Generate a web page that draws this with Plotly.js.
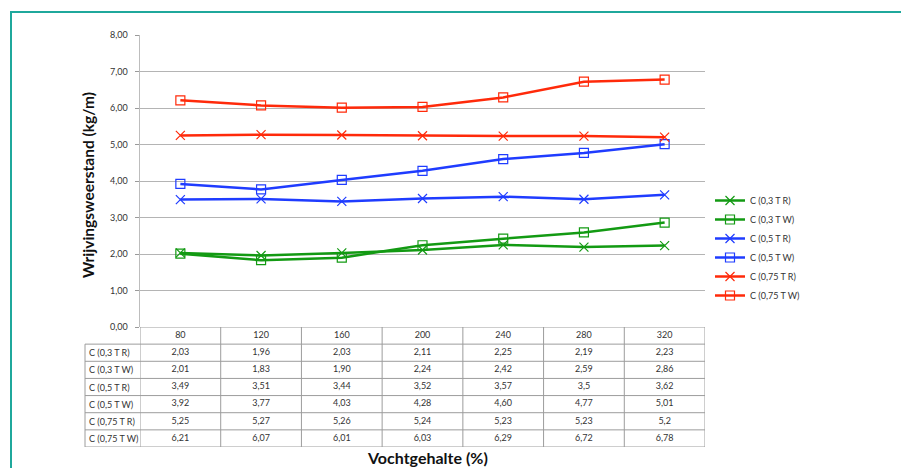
<!DOCTYPE html>
<html>
<head>
<meta charset="utf-8">
<script src="https://cdn.plot.ly/plotly-3.0.1.min.js"></script>
<style>
  html, body { margin: 0; padding: 0; background: #fff; }
  #wrap { position: relative; width: 901px; height: 468px; overflow: hidden; }
  #chart { width: 901px; height: 468px; }
  #frame { position: absolute; left: 10px; top: 11px; width: 1000px; height: 1000px;
           border-top: 2px solid #1fa89c; border-left: 2px solid #1fa89c; pointer-events: none; }
</style>
</head>
<body>
<div id="wrap"><div id="chart"></div><div id="frame"></div></div>
<script>
// Moisture content categories (%)
const moisture = ['80', '120', '160', '200', '240', '280', '320'];

// Series names
const seriesNames = ['C (0,3 T R)', 'C (0,3 T W)', 'C (0,5 T R)', 'C (0,5 T W)', 'C (0,75 T R)', 'C (0,75 T W)'];

// Friction resistance (kg/m), as written in the data table
const c03TR  = ['2,03', '1,96', '2,03', '2,11', '2,25', '2,19', '2,23'];
const c03TW  = ['2,01', '1,83', '1,90', '2,24', '2,42', '2,59', '2,86'];
const c05TR  = ['3,49', '3,51', '3,44', '3,52', '3,57', '3,5',  '3,62'];
const c05TW  = ['3,92', '3,77', '4,03', '4,28', '4,60', '4,77', '5,01'];
const c075TR = ['5,25', '5,27', '5,26', '5,24', '5,23', '5,23', '5,2'];
const c075TW = ['6,21', '6,07', '6,01', '6,03', '6,29', '6,72', '6,78'];

const seriesData = [c03TR, c03TW, c05TR, c05TW, c075TR, c075TW];
const toNum = s => parseFloat(s.replace(',', '.'));

const GREEN = '#139a13', BLUE = '#1f3cff', RED = '#ff2a0a';
const styles = [
  { color: GREEN, symbol: 'x-thin-open' },
  { color: GREEN, symbol: 'square-open' },
  { color: BLUE,  symbol: 'x-thin-open' },
  { color: BLUE,  symbol: 'square-open' },
  { color: RED,   symbol: 'x-thin-open' },
  { color: RED,   symbol: 'square-open' }
];

const FONT = 'Lato, "Open Sans", sans-serif';
const TXT = '#333333';

const traces = seriesData.map((vals, i) => ({
  type: 'scatter',
  mode: 'lines+markers',
  name: seriesNames[i],
  x: moisture,
  y: vals.map(toNum),
  line: { color: styles[i].color, width: 2.5 },
  marker: {
    symbol: styles[i].symbol,
    size: 9,
    color: styles[i].color,
    line: { color: styles[i].color, width: 1.2 }
  },
  hoverinfo: 'x+y+name',
  cliponaxis: false
}));

// Data table below the plot: header row (0) with categories, rows 1..6 with series values
const tabX = [], tabY = [], tabT = [];
moisture.forEach(m => { tabX.push(m); tabY.push(0); tabT.push(m); });
seriesData.forEach((vals, r) => {
  vals.forEach((v, c) => { tabX.push(moisture[c]); tabY.push(r + 1); tabT.push(v); });
});
traces.push({
  type: 'scatter',
  mode: 'text',
  x: tabX,
  y: tabY,
  text: tabT,
  textposition: 'middle center',
  textfont: { family: FONT, size: 9, color: TXT },
  xaxis: 'x',
  yaxis: 'y2',
  showlegend: false,
  hoverinfo: 'skip',
  cliponaxis: false
});

// Plot area geometry in pixels
const W = 901, H = 468, L = 140, R = 705, T = 35, B = 447, Y0 = 327;
const pw = R - L, ph = B - T;
const tableFrac = (B - Y0) / ph;
const labelColX = (85 - L) / pw;
const nCat = moisture.length, nRows = seriesNames.length;

const GRIDC = '#9c9c9c';
const shapes = [];
// horizontal table lines
shapes.push({ type: 'line', xref: 'x', yref: 'y2', x0: -0.5, x1: nCat - 0.5, y0: -0.5, y1: -0.5, line: { color: GRIDC, width: 1 } });
for (let r = 0; r <= nRows; r++) {
  shapes.push({ type: 'line', xref: 'paper', yref: 'y2', x0: labelColX, x1: 1, y0: r + 0.5, y1: r + 0.5, line: { color: GRIDC, width: 1 } });
}
// vertical table lines
for (let c = 0; c <= nCat; c++) {
  shapes.push({ type: 'line', xref: 'x', yref: 'y2', x0: c - 0.5, x1: c - 0.5, y0: -0.5, y1: nRows + 0.5, line: { color: GRIDC, width: 1 } });
}
shapes.push({ type: 'line', xref: 'paper', yref: 'y2', x0: labelColX, x1: labelColX, y0: 0.5, y1: nRows + 0.5, line: { color: GRIDC, width: 1 } });

// row labels
const annotations = seriesNames.map((n, r) => ({
  xref: 'paper', yref: 'y2', x: labelColX + 0.004, y: r + 1,
  xanchor: 'left', yanchor: 'middle', showarrow: false,
  text: n, font: { family: FONT, size: 9, color: TXT }
}));
// axis titles
annotations.push({
  xref: 'paper', yref: 'paper', x: (88 - L) / pw, y: (B - 185) / ph,
  xanchor: 'center', yanchor: 'middle', textangle: -90, showarrow: false,
  text: '<b>Wrijvingsweerstand (kg/m)</b>', font: { family: FONT, size: 15.5, color: '#111' }
});
annotations.push({
  xref: 'paper', yref: 'paper', x: (427 - L) / pw, y: (B - 457) / ph,
  xanchor: 'center', yanchor: 'middle', showarrow: false,
  text: '<b>Vochtgehalte (%)</b>', font: { family: FONT, size: 16, color: '#111' }
});

const layout = {
  width: W, height: H,
  margin: { l: L, r: W - R, t: T, b: H - B, pad: 0 },
  paper_bgcolor: '#fff', plot_bgcolor: '#fff',
  separators: ',.',
  font: { family: FONT, size: 9, color: TXT },
  showlegend: true,
  legend: {
    x: (710 - L) / pw, xanchor: 'left',
    y: (B - 248) / ph, yanchor: 'middle',
    font: { family: FONT, size: 9, color: TXT },
    itemwidth: 30, tracegroupgap: 0, bgcolor: 'rgba(0,0,0,0)'
  },
  xaxis: {
    type: 'category', categoryorder: 'array', categoryarray: moisture,
    range: [-0.5, nCat - 0.5], showticklabels: false, showgrid: false,
    zeroline: false, showline: false, ticks: '', anchor: 'y'
  },
  yaxis: {
    domain: [tableFrac, 1], range: [0, 8], dtick: 1, tickformat: '.2f',
    showgrid: true, gridcolor: '#b4b4b4', gridwidth: 1,
    zeroline: false, showline: true, linecolor: '#bdbdbd', linewidth: 1.5,
    ticks: 'outside', ticklen: 4, tickcolor: '#9a9a9a', ticklabelstandoff: 5,
    tickfont: { family: FONT, size: 9, color: TXT }, anchor: 'x'
  },
  yaxis2: {
    domain: [0, tableFrac], range: [nRows + 0.5, -0.5], visible: false, anchor: 'x'
  },
  shapes: shapes,
  annotations: annotations
};

Plotly.newPlot('chart', traces, layout, { displayModeBar: false, staticPlot: true });
</script>
</body>
</html>
